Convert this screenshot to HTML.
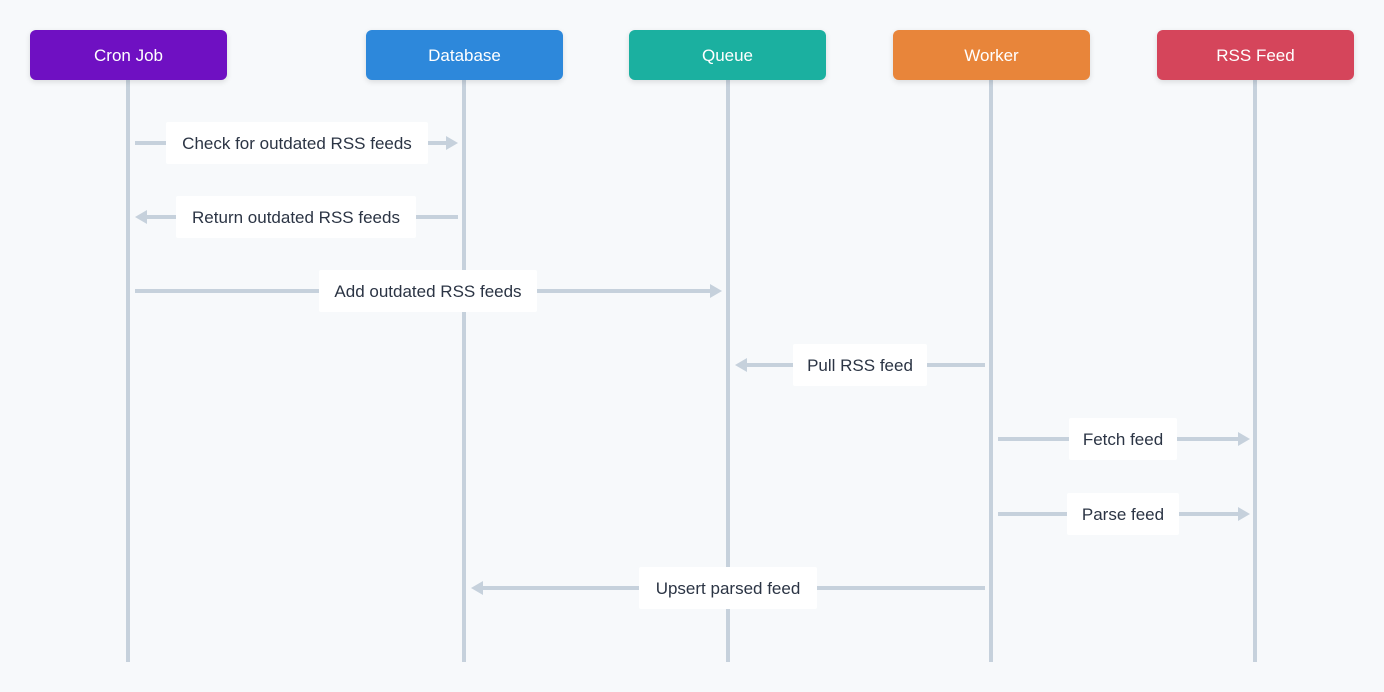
<!DOCTYPE html>
<html><head><style>
body{margin:0;width:1384px;height:692px;background:#f7f9fb;position:relative;overflow:hidden;font-family:"Liberation Sans",sans-serif;}
.h{position:absolute;top:30px;width:197px;height:49px;padding-top:1px;border-radius:6px;color:#fff;font-size:17px;line-height:50px;text-align:center;box-shadow:0 2px 6px rgba(0,0,0,.12);}
.l{position:absolute;height:41px;padding-top:1px;background:#fff;color:#2b3444;font-size:17px;line-height:42px;text-align:center;border-radius:2px;}
svg{position:absolute;left:0;top:0}
</style></head><body>
<svg width="1384" height="692">
<g stroke="#c6d1dc" stroke-width="4" fill="none">
<line x1="128" y1="80" x2="128" y2="662"/><line x1="464" y1="80" x2="464" y2="662"/><line x1="728" y1="80" x2="728" y2="662"/><line x1="991" y1="80" x2="991" y2="662"/><line x1="1255" y1="80" x2="1255" y2="662"/>
<line x1="135" y1="143" x2="448" y2="143"/>
<line x1="146" y1="217" x2="458" y2="217"/>
<line x1="135" y1="291" x2="712" y2="291"/>
<line x1="745" y1="365" x2="985" y2="365"/>
<line x1="998" y1="439" x2="1240" y2="439"/>
<line x1="998" y1="514" x2="1240" y2="514"/>
<line x1="481" y1="588" x2="985" y2="588"/>
</g>
<g fill="#c6d1dc">
<polygon points="458,143 446,136 446,150"/>
<polygon points="135,217 147,210 147,224"/>
<polygon points="722,291 710,284 710,298"/>
<polygon points="735,365 747,358 747,372"/>
<polygon points="1250,439 1238,432 1238,446"/>
<polygon points="1250,514 1238,507 1238,521"/>
<polygon points="471,588 483,581 483,595"/>
</g>
</svg>
<div class="h" style="left:30px;background:#6f10c2">Cron Job</div>
<div class="h" style="left:366px;background:#2d88db">Database</div>
<div class="h" style="left:629px;background:#1bb0a0">Queue</div>
<div class="h" style="left:893px;background:#e8853a">Worker</div>
<div class="h" style="left:1157px;background:#d5455b">RSS Feed</div>
<div class="l" style="left:166px;top:122px;width:262px">Check for outdated RSS feeds</div>
<div class="l" style="left:176px;top:196px;width:240px">Return outdated RSS feeds</div>
<div class="l" style="left:319px;top:270px;width:218px">Add outdated RSS feeds</div>
<div class="l" style="left:793px;top:344px;width:134px">Pull RSS feed</div>
<div class="l" style="left:1069px;top:418px;width:108px">Fetch feed</div>
<div class="l" style="left:1067px;top:493px;width:112px">Parse feed</div>
<div class="l" style="left:639px;top:567px;width:178px">Upsert parsed feed</div>
</body></html>
